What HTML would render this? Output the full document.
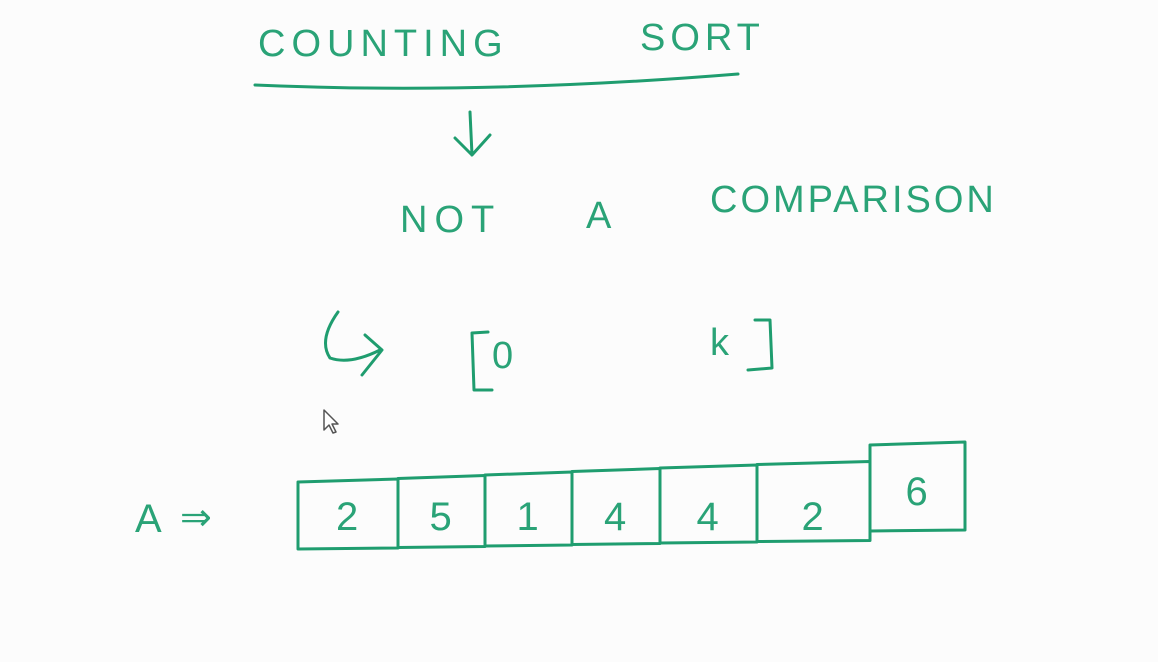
<!DOCTYPE html>
<html><head><meta charset="utf-8">
<style>
html,body{margin:0;padding:0;background:#fcfcfc;}
svg{display:block;}
text{font-family:"Liberation Sans",sans-serif;fill:#2aa377;}
</style></head>
<body>
<svg id="board" width="1158" height="662" viewBox="0 0 1158 662">
<rect width="1158" height="662" fill="#fcfcfc"/>
<g stroke="#1f9d6f" stroke-width="3" fill="none" stroke-linecap="round" stroke-linejoin="round">
  <text x="258" y="56" font-size="38" letter-spacing="6" stroke="none">COUNTING</text>
  <text x="640" y="50" font-size="38" letter-spacing="5" stroke="none">SORT</text>
  <path d="M255 85 Q480 95 738 74"/>
  <path d="M470 112 L472 155 M455 138 L472 155 L490 135"/>
  <text x="400" y="232" font-size="38" letter-spacing="7" stroke="none">NOT</text>
  <text x="586" y="228" font-size="38" stroke="none">A</text>
  <text x="710" y="212" font-size="38" letter-spacing="3" stroke="none">COMPARISON</text>
  <path d="M338 312 Q318 340 330 358 Q350 365 380 350 M365 335 L382 350 L362 375"/>
  <path d="M488 332 L472 333 L474 390 L492 390"/>
  <text x="492" y="368" font-size="38" stroke="none">0</text>
  <text x="710" y="355" font-size="38" stroke="none">k</text>
  <path d="M755 320 L770 320 L772 368 L748 370"/>
  <path stroke-width="1.5" stroke="#555" fill="#fff" d="M324 410 L324 430 L329 425 L333 433 L336 432 L332 424 L338 424 Z"/>
  <text x="135" y="532" font-size="40" stroke="none">A</text>
  <text x="180" y="530" font-size="38" stroke="none">⇒</text>
  <g id="cells"></g>
</g>
</svg>
<script>
const values = [2, 5, 1, 4, 4, 2, 6];
const edges = [298, 398, 485, 572, 660, 757, 870, 965];
const g = document.getElementById('cells');
const NS = 'http://www.w3.org/2000/svg';
values.forEach((v, i) => {
  const last = i === values.length - 1;
  const x0 = edges[i], x1 = edges[i + 1];
  const top = last ? 445 : 482 - i * 3.5, bot = last ? 530 : 548 - i * 1.5;
  const r = document.createElementNS(NS, 'path');
  r.setAttribute('d', `M${x0} ${top} L${x1} ${top - 3} L${x1} ${bot} L${x0} ${bot + 1} Z`);
  
  
  g.appendChild(r);
  const t = document.createElementNS(NS, 'text');
  t.setAttribute('x', (x0 + x1) / 2 - 12);
  t.setAttribute('y', last ? 505 : 530);
  t.setAttribute('font-size', '40');
  t.setAttribute('stroke', 'none');
  t.textContent = v;
  
  
  g.appendChild(t);
});
</script>
</body></html>
